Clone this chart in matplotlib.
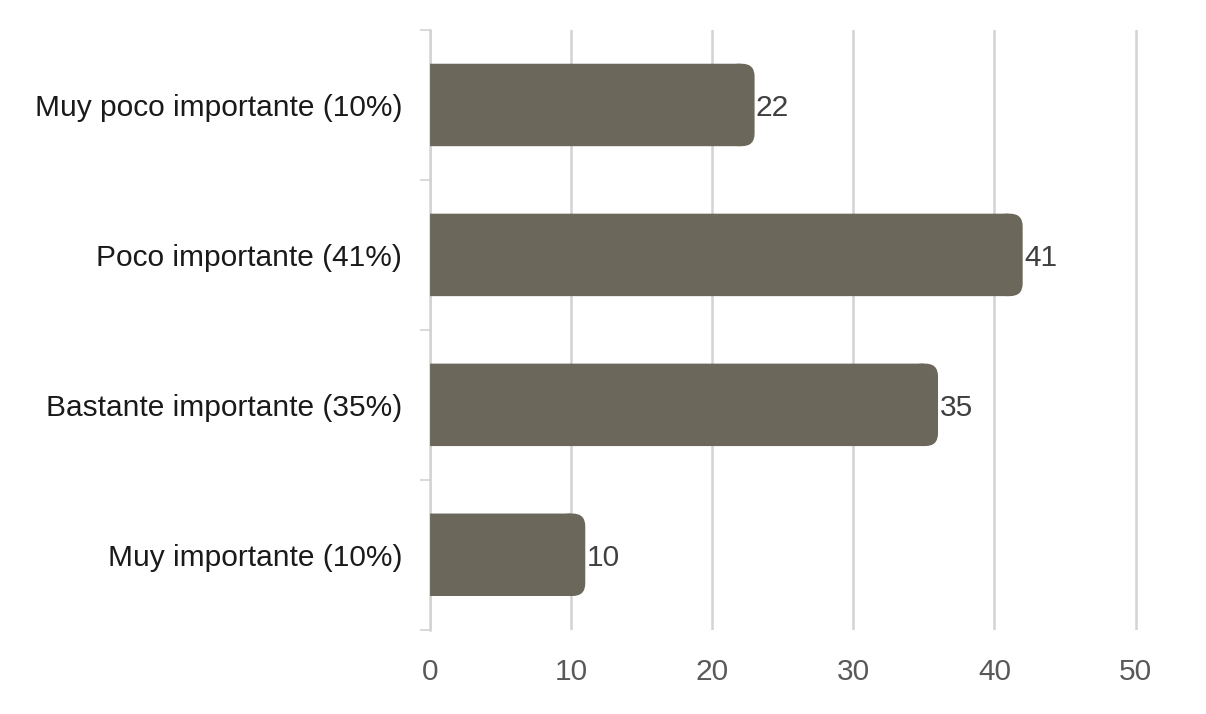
import matplotlib.pyplot as plt
from matplotlib.patches import FancyBboxPatch

categories = ['Muy poco importante (10%)', 'Poco importante (41%)',
              'Bastante importante (35%)', 'Muy importante (10%)']
values = [22, 41, 35, 10]
xticks = [0, 10, 20, 30, 40, 50]

plt.rcParams['font.family'] = ['Liberation Sans', 'DejaVu Sans']

bar_color = '#6b685b'
grid_color = '#d3d3d3'

fig = plt.figure(figsize=(12.06, 7.14), dpi=100)
ax = fig.add_axes([0.3566, 0.118, 0.592, 0.84])

ypos = list(range(len(categories)))
bar_h = 0.55
cap = 1.0  # rounded end cap, in data units

bars = ax.barh(ypos, values, height=bar_h, color=bar_color, zorder=4)
for b, v in zip(bars, values):
    b.set_snap(False)
    y0 = b.get_y()
    # cap sits under the bar so only its rounded right end shows
    cap_patch = FancyBboxPatch((v - cap, y0), 2 * cap, bar_h,
                               boxstyle='round,pad=0,rounding_size=0.9',
                               mutation_aspect=0.094,
                               facecolor=bar_color, edgecolor='none', zorder=3)
    ax.add_patch(cap_patch)
    ax.text(v + cap + 0.1, b.get_y() + bar_h / 2, str(v), va='center_baseline',
            ha='left', fontsize=21.5, color='#404040', zorder=5)

ax.set_xlim(0, 50.6)
ax.set_ylim(3.5, -0.5)
ax.set_xticks(xticks)
ax.set_xticklabels([str(t) for t in xticks], fontsize=21.5, color='#595959')
ax.set_yticks(ypos)
ax.set_yticklabels(categories, fontsize=21.5, color='#1a1a1a')
ax.set_yticks([-0.5, 0.5, 1.5, 2.5, 3.5], minor=True)

ax.tick_params(axis='x', length=0, pad=20)
ax.tick_params(axis='y', which='major', length=0, pad=20)
ax.tick_params(axis='y', which='minor', length=7, width=1.2, color=grid_color)

ax.xaxis.grid(True, color=grid_color, linewidth=1.8, zorder=0)
ax.set_axisbelow(True)
for s in ['top', 'right', 'bottom']:
    ax.spines[s].set_visible(False)
ax.spines['left'].set_color(grid_color)
ax.spines['left'].set_linewidth(1.8)

fig.savefig('out.png', dpi=100, facecolor='white')
